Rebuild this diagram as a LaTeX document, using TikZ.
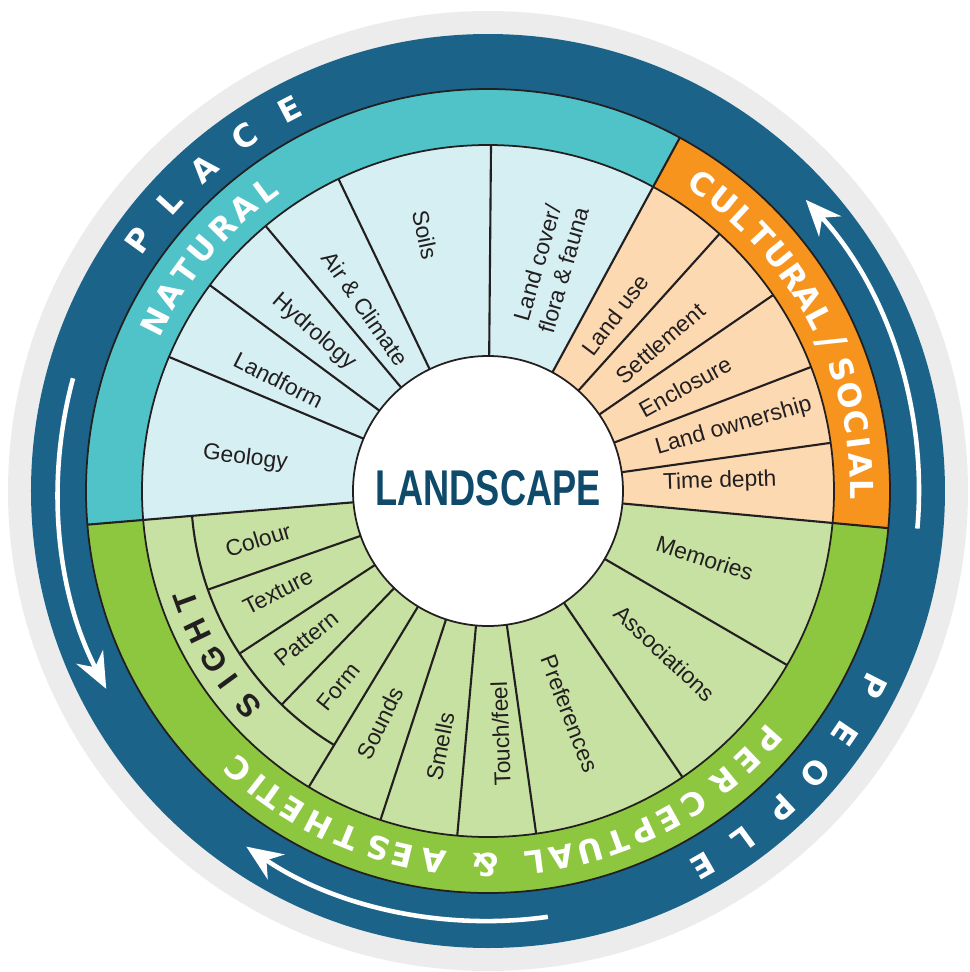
\documentclass[tikz,border=0pt]{standalone}
\usepackage{fontspec}
\setmainfont{Liberation Sans}
\newfontfamily\ringfont{DejaVu Sans}
\usetikzlibrary{arrows.meta}
\definecolor{ringblue}{HTML}{1B6389}
\definecolor{rimgray}{HTML}{ECECEC}
\definecolor{natural}{HTML}{50C3C9}
\definecolor{naturallight}{HTML}{D6EFF2}
\definecolor{cultural}{HTML}{F7941E}
\definecolor{culturallight}{HTML}{FCD9B1}
\definecolor{perceptual}{HTML}{8DC63F}
\definecolor{perceptuallight}{HTML}{C6E1A1}
\definecolor{inkdark}{HTML}{231F20}
\definecolor{titleblue}{HTML}{0F4A6B}

\begin{document}
\begin{tikzpicture}[
    cell/.style={font=\fontsize{6.5}{7.8}\selectfont, text=inkdark, align=center, inner sep=0pt},
    ringletter/.style={font=\ringfont\fontsize{9}{10}\selectfont\bfseries, text=white, inner sep=0pt},
    sightletter/.style={font=\fontsize{9}{10}\selectfont\bfseries, text=inkdark, inner sep=0pt},
    flowarrow/.style={draw=white, line width=1.3pt, -{Stealth[length=3.6mm,width=3mm]}},
    rim/.style={draw=inkdark, line width=0.5pt},
    spoke/.style={draw=inkdark, line width=0.6pt}
  ]
        \useasboundingbox (-4.88,-4.81) rectangle (4.81,4.91);

        % Draw the outer rings
        \fill[rimgray] (0,0) circle (4.80);
        \fill[ringblue] (0,0) circle (4.57);

        % Draw the three sectors
        \fill[natural] (0,0) -- (61.5:4.02) arc[start angle=61.5, end angle=184.8, radius=4.02] -- cycle;
        \fill[naturallight] (0,0) -- (61.5:3.46) arc[start angle=61.5, end angle=184.8, radius=3.46] -- cycle;
        \fill[cultural] (0,0) -- (-5.3:4.02) arc[start angle=-5.3, end angle=61.5, radius=4.02] -- cycle;
        \fill[culturallight] (0,0) -- (-5.3:3.46) arc[start angle=-5.3, end angle=61.5, radius=3.46] -- cycle;
        \fill[perceptual] (0,0) -- (-175.2:4.02) arc[start angle=-175.2, end angle=-5.3, radius=4.02] -- cycle;
        \fill[perceptuallight] (0,0) -- (-175.2:3.46) arc[start angle=-175.2, end angle=-5.3, radius=3.46] -- cycle;

        % Draw the borders and spokes
        \draw[rim] (0,0) circle (4.02);
        \draw[rim] (0,0) circle (3.46);
        \draw[spoke] (-121.2:2.97) arc[start angle=-121.2, end angle=-175.2, radius=2.97];
        \foreach \a in {184.8, 61.5, -5.3}
            \draw[spoke] (\a:1.35) -- (\a:4.02);
        \foreach \a in {157.2, 143.5, 130, 115.6, 89.5, 48, 34.5, 21, 8, -30.2, -55.8, -82, -95.1, -108.1, -121.2}
            \draw[spoke] (\a:1.35) -- (\a:3.46);
        \foreach \a in {-134, -146.8, -160.6}
            \draw[spoke] (\a:1.35) -- (\a:2.97);

        % Draw the centre
        \draw[rim, fill=white] (0,0) circle (1.35);
        \node[font=\fontsize{14.3}{15}\selectfont\bfseries, text=titleblue] (landscape) at (0,0.03) {\scalebox{0.72}[1]{LANDSCAPE}};

        % Natural
        \node[cell, rotate=-7] (geology) at (172.3:2.45) {Geology};
        \node[cell, rotate=-27] (landform) at (152.1:2.37) {Landform};
        \node[cell, rotate=-41] (hydrology) at (137.6:2.36) {Hydrology};
        \node[cell, rotate=-55] (air) at (123.9:2.20) {Air \& Climate};
        \node[cell, rotate=-78] (soils) at (103.8:2.64) {Soils};
        \node[cell, rotate=74] (landcover) at (74.5:2.33) {Land cover/\\flora \& fauna};

        % Cultural/social
        \node[cell, rotate=53] (landuse) at (54.2:2.17) {Land use};
        \node[cell, rotate=41] (settlement) at (40.6:2.27) {Settlement};
        \node[cell, rotate=29] (enclosure) at (27.9:2.23) {Enclosure};
        \node[cell, rotate=16] (ownership) at (14.7:2.54) {Land ownership};
        \node[cell, rotate=2] (timedepth) at (2.3:2.32) {Time depth};

        % Perceptual & aesthetic
        \node[cell, rotate=-18] (memories) at (-17.2:2.27) {Memories};
        \node[cell, rotate=-43] (associations) at (-42.5:2.40) {Associations};
        \node[cell, rotate=-69] (preferences) at (-69.8:2.37) {Preferences};
        \node[cell, rotate=92] (touch) at (-87:2.43) {Touch/feel};
        \node[cell, rotate=79] (smells) at (-100.6:2.60) {Smells};
        \node[cell, rotate=64] (sounds) at (-114.9:2.56) {Sounds};
        \node[cell, rotate=51] (form) at (-127.4:2.46) {Form};
        \node[cell, rotate=39] (pattern) at (-140.9:2.34) {Pattern};
        \node[cell, rotate=27] (texture) at (-154.4:2.33) {Texture};
        \node[cell, rotate=17] (colour) at (-168:2.35) {Colour};

        % Ring lettering
        \foreach \a/\ch in {153/N, 148.4/A, 144.1/T, 139.8/U, 135.2/R, 130.8/A, 126.5/L}
            \node[ringletter, rotate=\a-90] at (\a:3.74) {\ch};
        \foreach \a/\ch in {55.2/C, 51/U, 47/L, 43/T, 39/U, 35/R, 31.3/A, 27.6/L, 23.5/\scalebox{1.25}{\slash}, 19/S, 14.8/O, 10.7/C, 7.4/I, 4/A, 0.3/L}
            \node[ringletter, rotate=\a-90] at (\a:3.74) {\ch};
        \foreach \a/\ch in {-41.5/P, -46.1/E, -50.8/R, -56.6/C, -61.1/E, -65.4/P, -69.8/T, -74.1/U, -78.6/A, -82.8/L,
                            -90.4/\&, -98.4/A, -103.2/E, -107.1/S, -112.1/T, -116.9/H, -121.6/E, -125.5/T, -128.1/I, -131.9/C}
            \node[ringletter, rotate=\a-90] at (\a:3.74) {\ch};
        \foreach \a/\ch in {-138.2/S, -143.8/I, -148.4/G, -154.2/H, -159.9/T}
            \node[sightletter, rotate=\a-90] at (\a:3.22) {\ch};
        \foreach \a/\ch in {144.3/P, 137.8/L, 131.4/A, 124.5/C, 117.5/E}
            \node[ringletter, rotate=\a-90] at (\a:4.30) {\ch};
        \foreach \a/\ch in {-26.9/P, -34.2/E, -40.7/O, -47.2/P, -53.8/L, -60.2/E}
            \node[ringletter, rotate=\a-90] at (\a:4.32) {\ch};

        % Flow arrows
        \draw[flowarrow] (164.8:4.30) arc[start angle=164.8, end angle=207.4, radius=4.30];
        \draw[flowarrow] (-5:4.31) arc[start angle=-5, end angle=42.5, radius=4.31];
        \draw[flowarrow] (-82:4.30) arc[start angle=-82, end angle=-124.2, radius=4.30];
    \end{tikzpicture}
\end{document}
